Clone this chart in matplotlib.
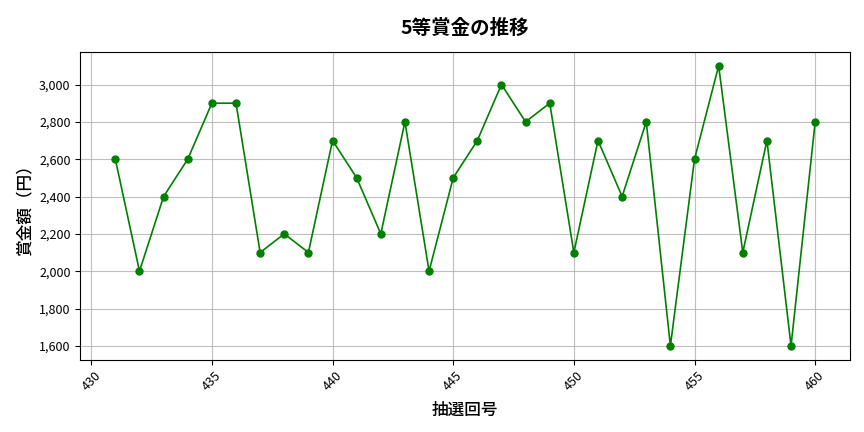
import matplotlib
matplotlib.use("Agg")
import matplotlib.pyplot as plt
from matplotlib.ticker import FuncFormatter

plt.rcParams['font.family'] = ['Noto Sans CJK JP', 'DejaVu Sans']

# 抽選回号と5等賞金
draws = list(range(431, 461))
prizes = [2600, 2000, 2400, 2600, 2900, 2900, 2100, 2200, 2100, 2700,
          2500, 2200, 2800, 2000, 2500, 2700, 3000, 2800, 2900, 2100,
          2700, 2400, 2800, 1600, 2600, 3100, 2100, 2700, 1600, 2800]

fig, ax = plt.subplots(figsize=(8.64, 4.32), dpi=100)
ax.plot(draws, prizes, marker='o', color='green', linewidth=1.2, markersize=5)

ax.set_title('5等賞金の推移', fontsize=14, fontweight='bold', pad=13)
ax.set_xlabel('抽選回号', fontsize=12, fontweight='medium', labelpad=5)
ax.set_ylabel('賞金額（円）', fontsize=12, fontweight='medium')
ax.yaxis.set_major_formatter(FuncFormatter(lambda v, p: f'{int(v):,}'))
ax.tick_params(axis='both', labelsize=9)
plt.setp(ax.get_xticklabels(), rotation=45)
ax.grid(True, color='#b0b0b0', linewidth=0.8, alpha=0.8)

plt.subplots_adjust(left=0.093, right=0.984, top=0.88, bottom=0.167)
plt.savefig('out.png')
